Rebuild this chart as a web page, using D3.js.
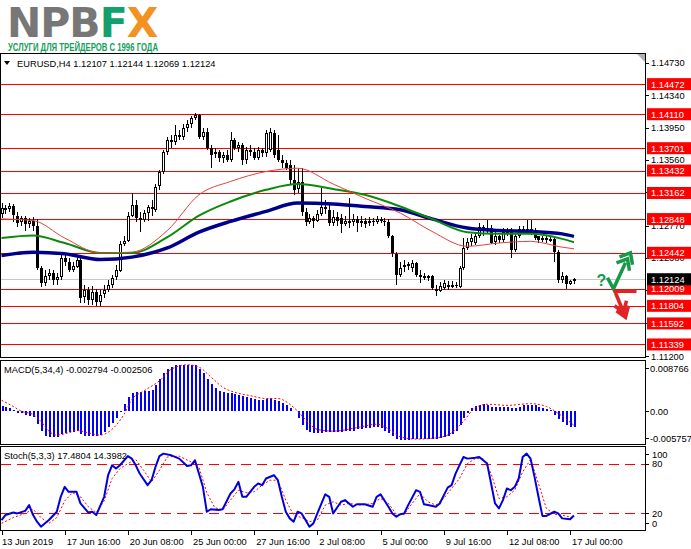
<!DOCTYPE html>
<html>
<head>
<meta charset="utf-8">
<script src="https://cdn.jsdelivr.net/npm/d3@7"></script>
<style>
body{margin:0;background:#fff}
svg{display:block;font-family:"Liberation Sans",Arial,sans-serif}
</style>
</head>
<body>
<script>
// EURUSD H4 candles, 13 Jun - 17 Jul 2019
var opens = [1.1291,1.1298,1.1296,1.1300,1.1289,1.1281,1.1286,1.1279,1.1283,1.1277,
1.1226,1.1208,1.1216,1.1220,1.1211,1.1215,1.1238,1.1233,1.1223,1.1228,
1.1236,1.1190,1.1199,1.1187,1.1197,1.1185,1.1194,1.1199,1.1205,1.1214,
1.1223,1.1255,1.1259,1.1289,1.1302,1.1286,1.1283,1.1292,1.1299,1.1296,
1.1324,1.1341,1.1365,1.1380,1.1377,1.1386,1.1383,1.1394,1.1399,1.1406,
1.1410,1.1383,1.1389,1.1370,1.1362,1.1365,1.1358,1.1362,1.1356,1.1380,
1.1370,1.1374,1.1356,1.1368,1.1365,1.1358,1.1368,1.1364,1.1368,1.1388,
1.1368,1.1356,1.1352,1.1350,1.1332,1.1320,1.1329,1.1293,1.1281,1.1286,
1.1282,1.1291,1.1299,1.1296,1.1280,1.1287,1.1286,1.1279,1.1283,1.1281,
1.1285,1.1280,1.1283,1.1279,1.1282,1.1281,1.1285,1.1282,1.1281,1.1264,
1.1243,1.1218,1.1226,1.1229,1.1226,1.1232,1.1217,1.1215,1.1216,1.1216,
1.1201,1.1198,1.1202,1.1206,1.1204,1.1206,1.1203,1.1226,1.1250,1.1257,
1.1256,1.1264,1.1275,1.1270,1.1274,1.1257,1.1264,1.1259,1.1269,1.1269,
1.1247,1.1264,1.1273,1.1270,1.1273,1.1269,1.1264,1.1259,1.1262,1.1259,
1.1261,1.1245,1.1211,1.1216,1.1206,1.12107];
var highs = [1.1304,1.1302,1.1304,1.1303,1.1293,1.1288,1.1288,1.1286,1.1287,1.1285,
1.1228,1.1223,1.1225,1.1223,1.1220,1.1245,1.1241,1.1238,1.1233,1.1241,
1.1239,1.1205,1.1203,1.1204,1.1201,1.1199,1.1206,1.1211,1.1218,1.1230,
1.1259,1.1264,1.1293,1.1316,1.1308,1.1293,1.1296,1.1302,1.1308,1.1327,
1.1344,1.1368,1.1383,1.1386,1.1398,1.1392,1.1399,1.1404,1.1409,1.1412,
1.1411,1.1394,1.1394,1.1374,1.1370,1.1368,1.1365,1.1368,1.1389,1.1382,
1.1377,1.1376,1.1371,1.1374,1.1370,1.1372,1.1370,1.1392,1.1394,1.1392,
1.1386,1.1362,1.1356,1.1356,1.1350,1.1346,1.1346,1.1298,1.1291,1.1289,
1.1296,1.1322,1.1308,1.1303,1.1296,1.1293,1.1291,1.1288,1.1310,1.1291,
1.1289,1.1289,1.1286,1.1287,1.1286,1.1288,1.1287,1.1286,1.1285,1.1266,
1.1245,1.1233,1.1235,1.1233,1.1235,1.1233,1.1223,1.1220,1.1218,1.1218,
1.1206,1.1209,1.1211,1.1210,1.1210,1.1209,1.1228,1.1262,1.1262,1.1267,
1.1269,1.1280,1.1278,1.1284,1.1278,1.1269,1.1266,1.1274,1.1274,1.1274,
1.1268,1.1276,1.1276,1.1284,1.1284,1.1274,1.1265,1.1264,1.1264,1.1263,
1.1263,1.1247,1.1221,1.1218,1.1212,1.12144];
var lows = [1.1286,1.1291,1.1293,1.1281,1.1275,1.1277,1.1271,1.1274,1.1271,1.1223,
1.1203,1.1204,1.1211,1.1206,1.1205,1.1211,1.1228,1.1221,1.1221,1.1226,
1.1184,1.1184,1.1181,1.1181,1.1180,1.1180,1.1190,1.1197,1.1202,1.1211,
1.1221,1.1252,1.1257,1.1287,1.1281,1.1269,1.1281,1.1283,1.1289,1.1293,
1.1320,1.1339,1.1362,1.1370,1.1374,1.1380,1.1380,1.1389,1.1395,1.1404,
1.1381,1.1380,1.1368,1.1346,1.1358,1.1353,1.1352,1.1353,1.1353,1.1368,
1.1365,1.1350,1.1351,1.1361,1.1356,1.1356,1.1360,1.1360,1.1365,1.1358,
1.1353,1.1346,1.1344,1.1326,1.1314,1.1316,1.1289,1.1277,1.1279,1.1274,
1.1281,1.1288,1.1291,1.1277,1.1276,1.1277,1.1268,1.1276,1.1274,1.1276,
1.1269,1.1275,1.1274,1.1276,1.1276,1.1279,1.1280,1.1277,1.1262,1.1239,
1.1205,1.1215,1.1221,1.1223,1.1221,1.1215,1.1208,1.1211,1.1210,1.1199,
1.1192,1.1197,1.1199,1.1200,1.1202,1.1202,1.1202,1.1223,1.1248,1.1252,
1.1253,1.1262,1.1265,1.1268,1.1255,1.1253,1.1256,1.1257,1.1264,1.1238,
1.1245,1.1262,1.1267,1.1268,1.1266,1.1260,1.1256,1.1257,1.1256,1.1257,
1.1233,1.1208,1.1208,1.1201,1.1205,1.12069];
var closes = [1.1298,1.1296,1.1300,1.1289,1.1281,1.1286,1.1279,1.1283,1.1277,1.1226,
1.1208,1.1216,1.1220,1.1211,1.1215,1.1238,1.1233,1.1223,1.1228,1.1236,
1.1190,1.1199,1.1187,1.1197,1.1185,1.1194,1.1199,1.1205,1.1214,1.1223,
1.1255,1.1259,1.1289,1.1302,1.1286,1.1283,1.1292,1.1299,1.1296,1.1324,
1.1341,1.1365,1.1380,1.1377,1.1386,1.1383,1.1394,1.1399,1.1406,1.1410,
1.1383,1.1389,1.1370,1.1362,1.1365,1.1358,1.1362,1.1356,1.1380,1.1370,
1.1374,1.1356,1.1368,1.1365,1.1358,1.1368,1.1364,1.1388,1.1390,1.1362,
1.1356,1.1352,1.1346,1.1332,1.1320,1.1329,1.1293,1.1281,1.1286,1.1282,
1.1291,1.1299,1.1296,1.1280,1.1287,1.1282,1.1279,1.1283,1.1281,1.1285,
1.1280,1.1283,1.1279,1.1282,1.1281,1.1285,1.1282,1.1281,1.1264,1.1243,
1.1218,1.1226,1.1229,1.1231,1.1232,1.1217,1.1215,1.1216,1.1214,1.1201,
1.1198,1.1204,1.1208,1.1204,1.1206,1.1205,1.1226,1.1250,1.1257,1.1262,
1.1264,1.1275,1.1270,1.1274,1.1256,1.1264,1.1259,1.1269,1.1271,1.1247,
1.1264,1.1273,1.1270,1.1273,1.1269,1.1262,1.1259,1.1262,1.1259,1.1261,
1.1245,1.1211,1.1216,1.1206,1.1210,1.12124];

// moving averages at these bars
var maBars  = [0,8,16,25,33,42,50,58,67,75,84,92,101,109,118,126,134,142,145];
var maRed   = [1.1285,1.1283,1.1262,1.1244,1.1245,1.1271,1.1314,1.1330,1.1342,1.1346,1.1327,1.1310,1.1292,1.1270,1.1252,1.1256,1.1258,1.1251,1.1249];
var maGreen = [1.1262,1.1265,1.1256,1.1244,1.1244,1.1263,1.1289,1.1306,1.1320,1.1327,1.1321,1.1314,1.1300,1.1285,1.1269,1.1267,1.1267,1.1261,1.1257];
var maBlue  = [1.1241,1.1245,1.1243,1.1236,1.1239,1.1250,1.1269,1.1282,1.1294,1.1304,1.1303,1.1300,1.1296,1.1285,1.1274,1.1271,1.1270,1.1267,1.1264];

var levels = [1.14472,1.14110,1.13701,1.13432,1.13162,1.12848,1.12442,1.12009,1.11804,1.11592,1.11339];
var lastPrice = 1.12124;
var priceTicks = [1.14730,1.14340,1.13950,1.13560,1.13170,1.12770,1.12380,1.11990,1.11600,1.11200];

var macdHist = [0.0009,0.0008,0.0006,0.0002,-0.0003,-0.0004,-0.0006,-0.0008,-0.0010,-0.0022,
-0.0035,-0.0043,-0.0046,-0.0046,-0.0045,-0.0040,-0.0038,-0.0037,-0.0036,-0.0035,
-0.0040,-0.0043,-0.0044,-0.0044,-0.0043,-0.0042,-0.0036,-0.0028,-0.0020,-0.0012,
-0.0002,0.0012,0.0024,0.0031,0.0033,0.0034,0.0035,0.0035,0.0037,0.0045,
0.0056,0.0066,0.0074,0.0078,0.0080,0.0081,0.0081,0.0081,0.0081,0.0080,
0.0074,0.0066,0.0057,0.0048,0.0041,0.0036,0.0033,0.0031,0.0031,0.0030,
0.0029,0.0026,0.0024,0.0023,0.0021,0.0020,0.0020,0.0022,0.0023,0.0020,
0.0018,0.0014,0.0010,0.0006,0.0001,-0.0012,-0.0025,-0.0033,-0.0036,-0.0039,
-0.0039,-0.0038,-0.0037,-0.0037,-0.0036,-0.0036,-0.0036,-0.0035,-0.0034,-0.0034,
-0.0032,-0.0031,-0.0030,-0.0029,-0.0028,-0.0028,-0.0030,-0.0034,-0.0038,-0.0043,
-0.0048,-0.0050,-0.0051,-0.0050,-0.0049,-0.0049,-0.0049,-0.0049,-0.0049,-0.0049,
-0.0048,-0.0047,-0.0046,-0.0043,-0.0040,-0.0035,-0.0024,-0.0012,-0.0004,0.0005,
0.0009,0.0011,0.0012,0.0011,0.0008,0.0008,0.0007,0.0008,0.0008,0.0006,
0.0006,0.0007,0.0010,0.0011,0.0011,0.0010,0.0007,0.0006,0.0004,0.0002,
-0.0006,-0.0013,-0.0019,-0.0024,-0.0027,-0.002794];
var macdSigBars = [0,3,5,8,10,12,14,17,19,22,25,27,29,31,33,36,40,43,47,50,53,56,59,63,67,70,73,75,77,80,84,90,95,98,101,105,110,114,117,120,123,128,134,138,141,145];
var macdSig = [0.0019,0.0008,0,-0.0006,-0.0018,-0.0035,-0.0042,-0.0038,-0.0034,-0.0038,
-0.0042,-0.0037,-0.0025,-0.0006,0.0020,0.0035,0.0053,0.0073,0.0081,0.0077,
0.0060,0.0042,0.0033,0.0027,0.0022,0.0022,0.0012,0,-0.0015,-0.0032,
-0.0035,-0.0029,-0.0023,-0.0031,-0.0045,-0.0049,-0.0047,-0.0038,-0.0018,0.0006,
0.0012,0.0010,0.0013,0.0008,-0.0004,-0.002506];

var stochBars = [0,1,3,4,6,7,8,9,10,12,14,15,16,17,19,20,22,23,24,26,27,28,29,30,32,33,34,35,37,38,39,40,41,43,45,47,48,49,50,51,52,53,55,56,58,59,60,61,62,64,65,66,67,69,70,71,72,73,74,75,76,77,78,79,80,82,83,84,86,87,89,90,92,94,95,96,98,99,100,101,102,103,105,106,107,108,110,111,113,114,115,117,118,120,121,123,124,125,126,127,128,129,130,131,132,133,134,135,136,137,138,140,141,142,144,145];
var stochMain = [12,18,21,20,23,30,18,10,4,12,22,40,52,46,46,32,21,22,18,40,66,78,74,78,89,86,78,68,54,60,76,89,92,90,86,77,78,84,68,52,22,25,24,25,44,49,58,40,40,52,56,54,62,66,60,40,22,14,10,22,20,12,4,8,20,43,40,20,34,36,28,31,31,28,40,43,28,20,16,19,20,30,48,46,31,30,28,32,51,54,68,88,86,87,88,80,56,32,26,36,50,48,52,62,88,92,86,64,40,17,17,22,20,14,13,17.4804];
var stochSigBars = [0,3,6,8,10,12,14,16,18,20,22,24,26,28,30,32,34,36,38,40,42,45,48,50,52,54,56,58,60,62,64,66,68,70,72,74,76,78,80,82,84,86,88,91,94,96,98,100,102,104,106,108,110,112,114,116,118,120,122,124,126,128,130,132,134,136,138,140,142,145];
var stochSig = [8,15,20,25,15,8,15,35,45,40,28,21,35,62,74,80,85,72,58,72,88,89,82,76,45,27,24,36,48,45,46,54,60,60,36,18,15,10,12,30,34,30,32,30,32,38,32,19,19,32,44,34,30,38,50,62,80,86,86,68,38,40,48,70,85,56,26,19,18,14.3982];

var timeLabels = ["13 Jun 2019","17 Jun 16:00","20 Jun 08:00","25 Jun 00:00","27 Jun 16:00","2 Jul 08:00","5 Jul 00:00","9 Jul 16:00","12 Jul 08:00","17 Jul 00:00"];
var timeLabelBars = [0,16,32,48,64,80,96,112,128,144];

var W = 691, H = 549, R = 645, FS = "9.3px";

var svg = d3.select("body").append("svg").attr("width", W).attr("height", H);

var x = d3.scaleLinear().domain([0, 145]).range([1.5, 574]);
var yMain = d3.scaleLinear().domain([1.11200, 1.14730]).range([356, 62.7]);
var yMacd = d3.scaleLinear().domain([-0.005757, 0.008766]).range([444, 361]);
var ySt = d3.scaleLinear().domain([0, 100]).range([530, 447]);

// logo
var defs = svg.append("defs");
var gr = defs.append("linearGradient").attr("id", "xgrad").attr("x1", 0).attr("y1", 1).attr("x2", 1).attr("y2", 0);
gr.append("stop").attr("offset", "50%").attr("stop-color", "#13a06c");
gr.append("stop").attr("offset", "50%").attr("stop-color", "#f39220");
var logo = svg.append("text").attr("x", 7).attr("y", 37)
  .style("font-family", "'DejaVu Sans',sans-serif").style("font-weight", "bold").style("font-size", "41px")
  .attr("letter-spacing", "-1");
logo.append("tspan").attr("fill", "#777").text("NPB");
logo.append("tspan").attr("fill", "#13a06c").text("F");
logo.append("tspan").attr("fill", "url(#xgrad)").text("X");
svg.append("text").attr("x", 8).attr("y", 51)
  .attr("textLength", 150).attr("lengthAdjust", "spacingAndGlyphs")
  .style("font-family", "'Liberation Sans Narrow','Liberation Sans',sans-serif")
  .style("font-weight", "bold").style("font-size", "10px").attr("fill", "#13a05a")
  .text("УСЛУГИ ДЛЯ ТРЕЙДЕРОВ С 1996 ГОДА");

defs.append("clipPath").attr("id", "clipMain").append("rect").attr("x", 1).attr("y", 54).attr("width", R - 1).attr("height", 303);

// panel frames
function frame(y0, y1) {
  svg.append("rect").attr("x", 0.5).attr("y", y0 + 0.5).attr("width", R).attr("height", y1 - y0)
    .attr("fill", "none").attr("stroke", "#000");
}
frame(53, 357);
frame(360, 444);
frame(446, 530);

var main = svg.append("g").attr("clip-path", "url(#clipMain)");

// level lines
main.selectAll(".lvl").data(levels).join("line")
  .attr("x1", 1).attr("x2", R).attr("y1", d => Math.round(yMain(d)) + 0.5).attr("y2", d => Math.round(yMain(d)) + 0.5)
  .attr("stroke", "#ff0000").attr("stroke-width", 1);
main.append("line").attr("x1", 1).attr("x2", R)
  .attr("y1", Math.round(yMain(lastPrice)) + 0.5).attr("y2", Math.round(yMain(lastPrice)) + 0.5)
  .attr("stroke", "#c8c8c8");

// candles
var idx = d3.range(closes.length);
var cg = main.append("g").attr("shape-rendering", "crispEdges");
cg.selectAll(".wick").data(idx).join("line")
  .attr("x1", i => Math.round(x(i)) + 0.5).attr("x2", i => Math.round(x(i)) + 0.5)
  .attr("y1", i => yMain(highs[i])).attr("y2", i => yMain(lows[i]))
  .attr("stroke", "#000");
cg.selectAll(".body").data(idx).join("rect")
  .attr("x", i => closes[i] >= opens[i] ? Math.round(x(i)) - 0.5 : Math.round(x(i)) - 1)
  .attr("width", i => closes[i] >= opens[i] ? 2 : 3)
  .attr("y", i => Math.round(yMain(Math.max(opens[i], closes[i]))) + (closes[i] >= opens[i] ? 0.5 : 0))
  .attr("height", i => Math.max(1, Math.round(Math.abs(yMain(opens[i]) - yMain(closes[i])))) - (closes[i] >= opens[i] ? 1 : 0) || 1)
  .attr("fill", i => closes[i] >= opens[i] ? "#fff" : "#000")
  .attr("stroke", i => closes[i] >= opens[i] ? "#000" : "none");

// moving averages
var maLine = d3.line().x(d => x(d[0])).y(d => yMain(d[1])).curve(d3.curveMonotoneX);
main.append("path").datum(d3.zip(maBars, maBlue)).attr("d", maLine)
  .attr("fill", "none").attr("stroke", "#00008b").attr("stroke-width", 3.5);
main.append("path").datum(d3.zip(maBars, maGreen)).attr("d", maLine)
  .attr("fill", "none").attr("stroke", "#0a8a0a").attr("stroke-width", 2);
main.append("path").datum(d3.zip(maBars, maRed)).attr("d", maLine)
  .attr("fill", "none").attr("stroke", "#e8403c").attr("stroke-width", 1);

// forecast arrows, placed past the last bar at the 1.12009 support
var ax = x(155), ay = yMain(1.12009);
var arrows = svg.append("g").attr("transform", "translate(" + ax + "," + ay + ")")
  .attr("fill", "none").attr("stroke-width", 3.5).attr("stroke-linejoin", "miter").attr("stroke-linecap", "butt");
var pl = d3.line();
arrows.append("path").attr("d", pl([[-6, -11], [0, 0], [12, -26]])).attr("stroke", "#17994a");
arrows.append("path").attr("d", pl([[6, -32], [17, -36], [19, -24]])).attr("stroke", "#17994a");
arrows.append("path").attr("d", pl([[3, -26], [14, -30], [16, -18]])).attr("stroke", "#17994a");
arrows.append("text").attr("x", -17).attr("y", -3).attr("stroke", "none").attr("fill", "#17994a")
  .style("font-size", "16px").style("font-weight", "bold").text("?");
arrows.append("path").attr("d", pl([[0, 2.5], [23, 2.5]])).attr("stroke", "#e02424");
arrows.append("path").attr("d", pl([[2, 4], [9, 21]])).attr("stroke", "#e02424");
arrows.append("path").attr("d", pl([[3, 22], [12, 28.5], [15, 17]])).attr("stroke", "#e02424");
arrows.append("path").attr("d", pl([[1, 17], [10, 23.5], [13, 12]])).attr("stroke", "#e02424");

// header
svg.append("path").attr("d", "M4,61L10,61L7,65Z").attr("fill", "#000");
svg.append("text").attr("x", 17).attr("y", 67).style("font-size", FS).attr("fill", "#000")
  .text("EURUSD,H4  1.12107 1.12144 1.12069 1.12124");
svg.append("path").attr("d", "M637,54L645,54L645,62Z").attr("fill", "#b0b0b0");

// price axis: grid labels that sit right under a level box are fully hidden, skip them
var boxed = levels.concat([lastPrice]);
var visTicks = priceTicks.filter(t => !boxed.some(l => Math.abs(yMain(l) - yMain(t)) < 3));
svg.selectAll(".ptick").data(priceTicks).join("line")
  .attr("x1", R + 1).attr("x2", R + 4).attr("y1", d => Math.round(yMain(d)) + 0.5).attr("y2", d => Math.round(yMain(d)) + 0.5)
  .attr("stroke", "#000");
svg.selectAll(".plab").data(visTicks).join("text")
  .attr("x", 651).attr("y", d => yMain(d) + 3.5).style("font-size", FS).text(d => d.toFixed(5));
svg.selectAll(".lbox").data(levels).join("rect")
  .attr("x", 647).attr("width", 44).attr("y", d => yMain(d) - 6).attr("height", 12).attr("fill", "#ff0000");
svg.selectAll(".ltxt").data(levels).join("text")
  .attr("x", 651).attr("y", d => yMain(d) + 3.5).style("font-size", FS).attr("fill", "#fff").text(d => d.toFixed(5));
svg.append("rect").attr("x", 647).attr("width", 44).attr("y", yMain(lastPrice) - 6).attr("height", 12).attr("fill", "#000");
svg.append("text").attr("x", 651).attr("y", yMain(lastPrice) + 3.5).style("font-size", FS).attr("fill", "#fff").text(lastPrice.toFixed(5));

// MACD
var mg = svg.append("g");
mg.append("g").attr("shape-rendering", "crispEdges").selectAll("rect").data(idx).join("rect")
  .attr("x", i => Math.round(x(i)) - 0.5).attr("width", 2)
  .attr("y", i => Math.min(yMacd(0), yMacd(macdHist[i])))
  .attr("height", i => Math.abs(yMacd(macdHist[i]) - yMacd(0)))
  .attr("fill", "#0000ff");
mg.append("path").datum(d3.zip(macdSigBars, macdSig))
  .attr("d", d3.line().x(d => x(d[0])).y(d => yMacd(d[1])).curve(d3.curveMonotoneX))
  .attr("fill", "none").attr("stroke", "#ff0000").attr("stroke-dasharray", "2,2");
mg.append("text").attr("x", 4).attr("y", 373).style("font-size", FS).text("MACD(5,34,4) -0.002794 -0.002506");
[[0.008766, 368, "0.008766"], [0, null, "0.00"], [-0.005757, 438, "-0.005757"]].forEach(function(t) {
  var yy = t[1] == null ? yMacd(t[0]) : t[1];
  mg.append("text").attr("x", 650).attr("y", yy + 3.5).style("font-size", FS).text(t[2]);
  mg.append("line").attr("x1", R + 1).attr("x2", R + 4).attr("y1", Math.round(yy) + 0.5).attr("y2", Math.round(yy) + 0.5).attr("stroke", "#000");
});

// Stochastic
var sg = svg.append("g");
[80, 20].forEach(function(v) {
  sg.append("line").attr("x1", 1).attr("x2", R).attr("y1", Math.round(ySt(v)) + 0.5).attr("y2", Math.round(ySt(v)) + 0.5)
    .attr("stroke", "#ff0000").attr("stroke-dasharray", "10,6");
});
sg.append("path").datum(d3.zip(stochSigBars, stochSig))
  .attr("d", d3.line().x(d => x(d[0])).y(d => ySt(d[1])))
  .attr("fill", "none").attr("stroke", "#ff0000").attr("stroke-dasharray", "2,2");
sg.append("path").datum(d3.zip(stochBars, stochMain))
  .attr("d", d3.line().x(d => x(d[0])).y(d => ySt(d[1])))
  .attr("fill", "none").attr("stroke", "#0000dd").attr("stroke-width", 2).attr("stroke-linejoin", "round");
sg.append("text").attr("x", 4).attr("y", 459).style("font-size", FS).text("Stoch(5,3,3) 17.4804 14.3982");
[[100, 454], [80, null], [20, null], [0, 523]].forEach(function(t) {
  var yy = t[1] == null ? ySt(t[0]) : t[1];
  sg.append("text").attr("x", 652).attr("y", yy + 3.5).style("font-size", FS).text(t[0]);
  sg.append("line").attr("x1", R + 1).attr("x2", R + 4).attr("y1", Math.round(yy) + 0.5).attr("y2", Math.round(yy) + 0.5).attr("stroke", "#000");
});

// time axis
svg.selectAll(".ttick").data(timeLabelBars).join("line")
  .attr("x1", d => Math.round(x(d)) + 0.5).attr("x2", d => Math.round(x(d)) + 0.5)
  .attr("y1", 531).attr("y2", 535).attr("stroke", "#000");
svg.selectAll(".tlab").data(timeLabelBars).join("text")
  .attr("x", (d, i) => i === 0 ? 2 : x(d) + 2).attr("y", 545).style("font-size", FS)
  .text((d, i) => timeLabels[i]);
</script>
</body>
</html>
